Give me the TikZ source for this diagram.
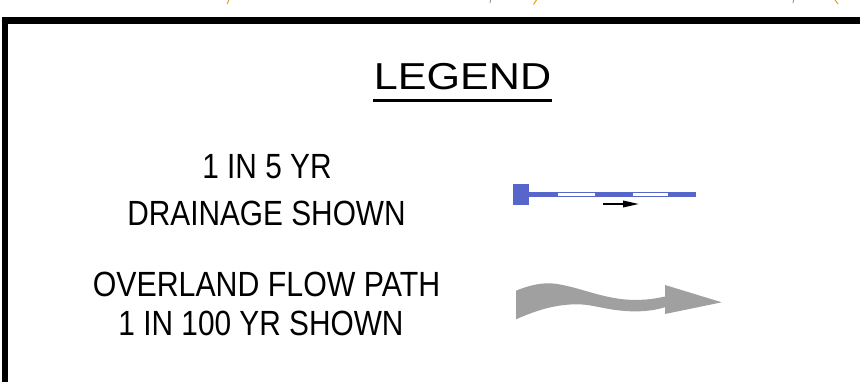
\documentclass[tikz,border=0pt]{standalone}
\usepackage{fontspec}
\setmainfont{Liberation Sans}
\usetikzlibrary{arrows.meta}
\definecolor{pipeblue}{RGB}{86,102,202}
\definecolor{flowgrey}{RGB}{160,160,160}
\definecolor{markorange}{RGB}{228,160,30}
\tikzset{
  label text/.style={inner sep=0pt, anchor=base, font=\fontsize{35}{38}\selectfont},
  title text/.style={inner sep=0pt, anchor=base, font=\fontsize{37.5}{40}\selectfont},
  frame line/.style={line width=6.5pt, black},
}
\newcommand{\narrowtext}[2][0.852]{\scalebox{#1}[1]{#2}}
\begin{document}
\begin{tikzpicture}[x=1pt,y=-1pt]
  \useasboundingbox (0,0) rectangle (860,382);
  \begin{scope}
    \clip (0,0) rectangle (860,382);
    % sheet border
    \draw[frame line] (5.2,400) -- (5.2,20.5) -- (880,20.5);
    % fragments of linework above the border
    \draw[markorange, line width=1pt] (227,4) -- (229,0);
    \draw[markorange, line width=1pt] (533.5,4.5) -- (536.5,0);
    \draw[markorange, line width=1pt] (835,0) -- (838,4);
    \draw[gray, line width=0.8pt] (490,3) -- (490.5,0);
    \draw[gray, line width=0.8pt] (793,3) -- (793.5,0);
  \end{scope}

  % title
  \node[title text] (title) at (462.5,90) {\scalebox{1.15}[1]{LEGEND}};
  \coordinate (ulL) at (373,100.5);
  \coordinate (ulR) at (552,100.5);
  \draw[line width=2.5pt] (ulL) -- (ulR);

  % drainage entry
  \node[label text] (d1) at (267,178.5) {\narrowtext{1 IN 5 YR}};
  \node[label text] (d2) at (266.5,225.5) {\narrowtext{DRAINAGE SHOWN}};

  % pipe symbol
  \fill[pipeblue] (513,184) rectangle (529,205);
  \fill[pipeblue] (529,192) rectangle (696,197);
  \fill[white] (557.5,193.4) rectangle (594.5,195.8);
  \fill[white] (632.5,193.4) rectangle (667.5,195.8);
  \coordinate (fa) at (603,204);
  \coordinate (fb) at (639,204);
  \draw[line width=1.8pt, -{Triangle[length=16pt,width=6.5pt]}] (fa) -- (fb);

  % overland flow entry
  \node[label text] (o1) at (266.5,296.5) {\narrowtext[0.866]{OVERLAND FLOW PATH}};
  \node[label text] (o2) at (261,335.5) {\narrowtext{1 IN 100 YR SHOWN}};

  % flow path arrow
  \fill[flowgrey]
    (516,290.7) .. controls (535,283) and (548,282) .. (560,284.5)
    .. controls (580,288) and (600,297) .. (625,299.5)
    .. controls (645,301) and (658,298) .. (665,296.5)
    -- (665,285) -- (721.7,302.3) -- (665,314) -- (665,307.3)
    .. controls (652,311) and (640,312) .. (625,311)
    .. controls (600,309) and (590,303) .. (570,304.5)
    .. controls (550,306) and (535,311) .. (516,319.3)
    -- cycle;
\end{tikzpicture}
\end{document}
